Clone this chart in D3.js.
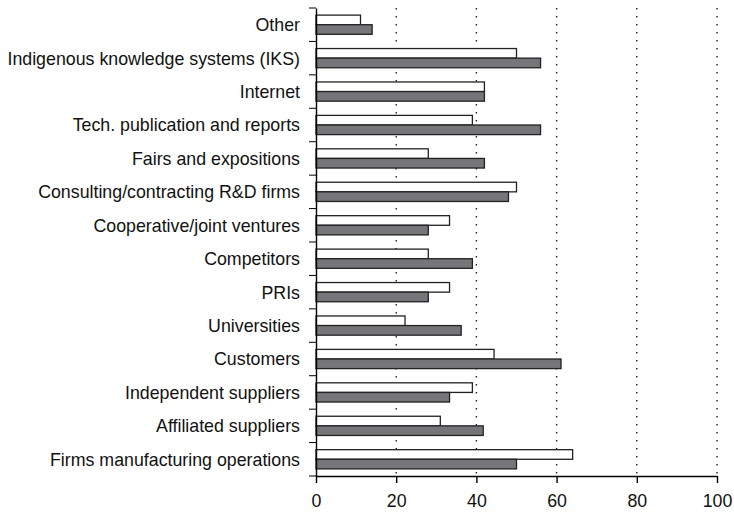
<!DOCTYPE html>
<html>
<head>
<meta charset="utf-8">
<script src="https://cdn.jsdelivr.net/npm/d3@7"></script>
<style>
  body { margin: 0; background: #fff; }
  svg text { font-family: "Liberation Sans", Arial, Helvetica, sans-serif; fill: #111; }
</style>
</head>
<body>
<div id="chart"></div>
<script>
// top to bottom, as in the picture
var categories = [
    "Other",
    "Indigenous knowledge systems (IKS)",
    "Internet",
    "Tech. publication and reports",
    "Fairs and expositions",
    "Consulting/contracting R&D firms",
    "Cooperative/joint ventures",
    "Competitors",
    "PRIs",
    "Universities",
    "Customers",
    "Independent suppliers",
    "Affiliated suppliers",
    "Firms manufacturing operations"
];
var whiteValues = [11.1, 50.0, 42.0, 39.0, 28.0, 50.0, 33.3, 28.0, 33.3, 22.2, 44.4, 39.0, 31.0, 64.0];
var grayValues  = [14.0, 56.0, 42.0, 56.0, 42.0, 48.0, 28.0, 39.0, 28.0, 36.2, 61.1, 33.3, 41.7, 50.0];
var xTicks = [0, 20, 40, 60, 80, 100];

var width = 734;
var height = 512;
var margin = { top: 8, right: 17, bottom: 36, left: 316 };
var fontSize = "17.8px";

var svg = d3.select("#chart").append("svg")
    .attr("width", width)
    .attr("height", height);

var rows = categories.map(function(c, i) {
    return { name: c, white: whiteValues[i], gray: grayValues[i] };
});

var xScale = d3.scaleLinear()
    .domain([0, 100])
    .range([margin.left, width - margin.right]);

var yScale = d3.scaleBand()
    .domain(categories)
    .range([margin.top, height - margin.bottom]);

var inner = d3.scaleBand()
    .domain(["white", "gray"])
    .range([0, yScale.step()])
    .paddingOuter(0.74);

// dotted grid lines
svg.append("g")
    .selectAll("line")
    .data(xTicks.slice(1))
    .join("line")
    .attr("x1", function(d) { return xScale(d); })
    .attr("x2", function(d) { return xScale(d); })
    .attr("y1", margin.top)
    .attr("y2", height - margin.bottom)
    .attr("stroke", "#222")
    .attr("stroke-width", 1.4)
    .attr("stroke-dasharray", "1.4,6.6");

// bars
var groups = svg.append("g")
    .selectAll("g")
    .data(rows)
    .join("g")
    .attr("transform", function(d) { return "translate(0," + yScale(d.name) + ")"; });

groups.append("rect")
    .attr("x", xScale(0))
    .attr("y", inner("white"))
    .attr("width", function(d) { return xScale(d.white) - xScale(0); })
    .attr("height", inner.bandwidth())
    .attr("fill", "#fff")
    .attr("stroke", "#222")
    .attr("stroke-width", 1.3);

groups.append("rect")
    .attr("x", xScale(0))
    .attr("y", inner("gray"))
    .attr("width", function(d) { return xScale(d.gray) - xScale(0); })
    .attr("height", inner.bandwidth())
    .attr("fill", "#76767a")
    .attr("stroke", "#222")
    .attr("stroke-width", 1.3);

// x axis
var xAxis = svg.append("g")
    .attr("transform", "translate(0," + (height - margin.bottom) + ")")
    .call(d3.axisBottom(xScale)
        .tickValues(xTicks)
        .tickSize(7)
        .tickSizeOuter(0)
        .tickPadding(11));
xAxis.selectAll("text").style("font-size", fontSize);

// y axis, labels only (ticks sit at band edges, drawn below)
var yAxis = svg.append("g")
    .attr("transform", "translate(" + margin.left + ",0)")
    .call(d3.axisLeft(yScale)
        .tickSize(0)
        .tickPadding(16));
yAxis.selectAll("text").style("font-size", fontSize).attr("dy", "0.36em");

var edges = categories.map(function(c) { return yScale(c); }).concat([yScale.range()[1]]);
yAxis.append("g")
    .selectAll("line")
    .data(edges)
    .join("line")
    .attr("x1", -7)
    .attr("x2", 0)
    .attr("y1", function(d) { return d; })
    .attr("y2", function(d) { return d; })
    .attr("stroke", "#000");

svg.selectAll(".domain, .tick line").attr("stroke", "#000").attr("stroke-width", 1.4);
</script>
</body>
</html>
